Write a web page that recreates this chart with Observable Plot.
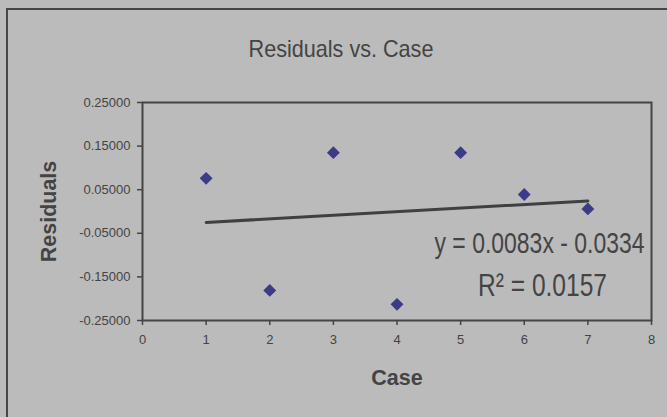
<!DOCTYPE html>
<html>
<head>
<meta charset="utf-8">
<script src="https://cdn.jsdelivr.net/npm/d3@7"></script>
<script src="https://cdn.jsdelivr.net/npm/@observablehq/plot@0.6"></script>
<style>
  html, body { margin: 0; padding: 0; background: #bbbbbb; }
  #wrap { position: relative; width: 667px; height: 417px; overflow: hidden; background: #bbbbbb; }
  #outer { position: absolute; left: 6px; top: 8px; width: 720px; height: 460px; border: 2px solid #464646; box-sizing: border-box; }
  #title { position: absolute; left: 0; width: 682px; top: 37px; text-align: center; font-family: "Liberation Sans", Arial, sans-serif; font-size: 24px; line-height: 24px; color: #444; transform: scaleX(0.9); transform-origin: 341px 0; }
  #chart { position: absolute; left: 0; top: 0; }
</style>
</head>
<body>
<div id="wrap">
  <div id="outer"></div>
  <div id="title"></div>
  <div id="chart"></div>
</div>
<script>
const chartTitle = "Residuals vs. Case";
const xLabel = "Case";
const yLabel = "Residuals";
const cases = [1, 2, 3, 4, 5, 6, 7];
const residuals = [0.076, -0.181, 0.135, -0.213, 0.135, 0.039, 0.006];
const xTicks = [0, 1, 2, 3, 4, 5, 6, 7, 8];
const yTicks = [-0.25, -0.15, -0.05, 0.05, 0.15, 0.25];
const equationLine = ["y = 0.0083x - 0.0334"];
const r2Line = ["R² = 0.0157"];

const points = cases.map((c, i) => ({case: c, residual: residuals[i]}));

document.getElementById("title").textContent = chartTitle;

const chart = Plot.plot({
  width: 667,
  height: 417,
  marginLeft: 142,
  marginRight: 16,
  marginTop: 102,
  marginBottom: 97,
  style: {background: "transparent", fontFamily: "'Liberation Sans', Arial, sans-serif", fontSize: "13px", color: "#444"},
  x: {domain: [0, 8]},
  y: {domain: [-0.25, 0.25]},
  marks: [
    Plot.frame({stroke: "#454545", strokeWidth: 2}),
    Plot.axisX({ticks: xTicks, tickSize: 5, tickPadding: 9, tickFormat: d => String(d), label: null, strokeWidth: 1.5, fontSize: 13}),
    Plot.axisY({ticks: yTicks, tickSize: 5, tickPadding: 7, tickFormat: d => d.toFixed(5), label: null, strokeWidth: 1.5, fontSize: 13}),
    Plot.text([yLabel], {frameAnchor: "left", rotate: -90, dx: -93, textAnchor: "middle", lineAnchor: "middle", text: d => d, fontSize: 21.5, fontWeight: "bold", fill: "#444"}),
    Plot.text([xLabel], {frameAnchor: "bottom", dy: 58, textAnchor: "middle", lineAnchor: "middle", text: d => d, fontSize: 21.5, fontWeight: "bold", fill: "#444"}),
    Plot.linearRegressionY(points, {x: "case", y: "residual", ci: 0, stroke: "#404040", strokeWidth: 3}),
    Plot.dot(points, {x: "case", y: "residual", symbol: "diamond2", r: 5.8, fill: "#3b3b88", stroke: "none"}),
    Plot.text(equationLine, {frameAnchor: "bottom-right", textAnchor: "end", lineAnchor: "middle", dx: -7, dy: -77.5, text: d => d, fontSize: 30, fill: "#444"}),
    Plot.text(r2Line, {frameAnchor: "bottom-right", textAnchor: "middle", lineAnchor: "middle", dx: -109, dy: -35, text: d => d, fontSize: 32, fill: "#444"})
  ]
});
// condense the trendline annotation like the original's narrow lettering
d3.select(chart).selectAll("text")
  .filter(function () { return this.textContent === equationLine[0]; })
  .attr("textLength", 210).attr("lengthAdjust", "spacingAndGlyphs");
d3.select(chart).selectAll("text")
  .filter(function () { return this.textContent === r2Line[0]; })
  .attr("textLength", 129).attr("lengthAdjust", "spacingAndGlyphs");
document.getElementById("chart").appendChild(chart);
</script>
</body>
</html>
